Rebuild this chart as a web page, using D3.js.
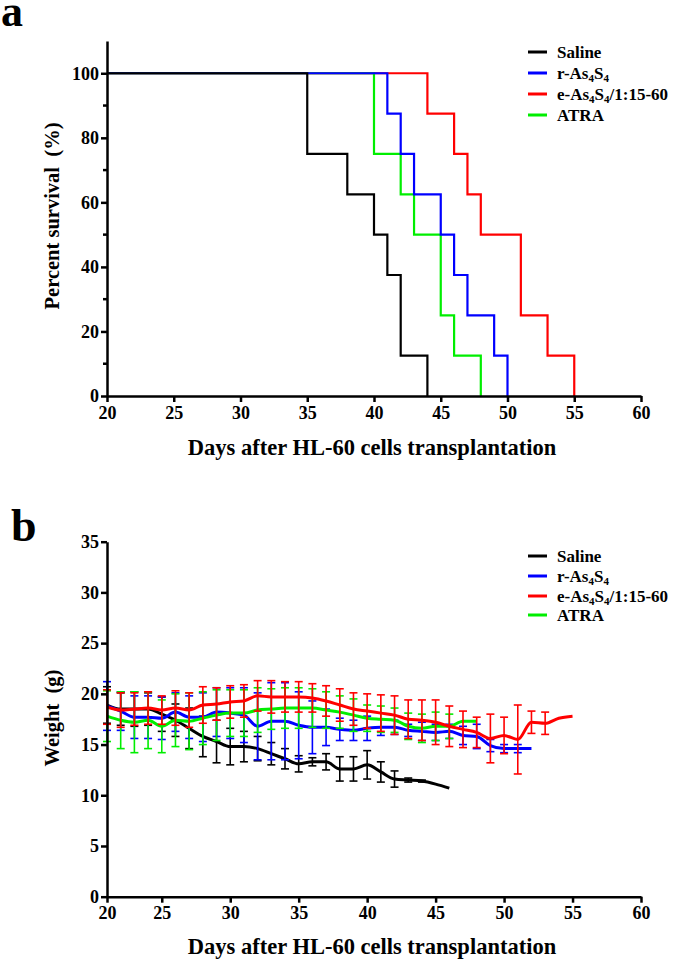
<!DOCTYPE html>
<html>
<head>
<meta charset="utf-8">
<script src="https://cdn.jsdelivr.net/npm/d3@7"></script>
<style>
  body { margin: 0; background: #fff; }
  text { font-family: "Liberation Serif", "Times New Roman", serif; font-weight: bold; fill: #000; }
</style>
</head>
<body>
<div id="chart"></div>
<script>
// ---------- data ----------
var groups = ["Saline", "r-As4S4", "e-As4S4/1:15-60", "ATRA"];
var colors = ["#000000", "#0000ff", "#ff0000", "#00ee00"];

// survival steps: [day, percent] where the curve drops
var survSaline = [[20, 100], [35, 75], [38, 62.5], [40, 50], [41, 37.5], [42, 12.5], [44, 0]];
var survR      = [[20, 100], [41, 87.5], [42, 75], [43, 62.5], [45, 50], [46, 37.5], [47, 25], [49, 12.5], [50, 0]];
var survE      = [[20, 100], [44, 87.5], [46, 75], [47, 62.5], [48, 50], [51, 25], [53, 12.5], [55, 0]];
var survATRA   = [[20, 100], [40, 75], [42, 62.5], [43, 50], [45, 25], [46, 12.5], [48, 0]];

// body weight, first value on day 21, one per day
var firstWeightDay = 21;
var wSaline = [18.9, 18.5, 18.5, 18.5, 18.0, 17.4, 16.6, 15.8, 15.3, 14.8, 14.8, 14.6, 14.1, 13.6, 13.1, 13.3, 13.3, 12.6, 12.6, 13.0, 12.3, 11.6, 11.5, 11.4, 11.1, 10.7];
var sdSaline = [1.8, 1.6, 1.7, 1.6, 1.7, 1.6, 2.0, 2.0, 2.1, 1.8, 1.5, 1.2, 1.1, 1.0, 0.8, 0.4, 0.8, 1.2, 1.2, 1.4, 1.0, 0.8, 0.2, 0.1, 0, 0];
var wR = [18.8, 18.3, 17.7, 17.7, 17.6, 18.2, 17.7, 17.7, 18.2, 18.1, 17.9, 16.8, 17.3, 17.3, 16.9, 16.7, 16.7, 16.5, 16.4, 16.6, 16.7, 16.7, 16.4, 16.3, 16.2, 16.3, 15.9, 15.8, 14.9, 14.6, 14.6, 14.6];
var sdR = [2.4, 1.9, 2.1, 2.1, 2.1, 1.9, 2.1, 2.4, 2.4, 2.5, 2.7, 3.3, 3.8, 3.8, 3.3, 2.6, 1.8, 1.1, 1.0, 1.2, 0.8, 0.7, 0.6, 0.9, 0.8, 0.7, 0.9, 1.2, 0.6, 0.4, 0.4, 0];
var wE = [18.7, 18.4, 18.5, 18.6, 18.4, 18.6, 18.4, 18.9, 19.0, 19.2, 19.3, 19.8, 19.7, 19.7, 19.7, 19.6, 19.3, 18.9, 18.5, 18.3, 18.1, 17.9, 17.5, 17.4, 17.2, 16.8, 16.5, 16.2, 15.6, 15.9, 15.5, 17.2, 17.1, 17.6, 17.8];
var sdE = [1.7, 1.7, 1.6, 1.6, 1.4, 1.7, 1.7, 1.8, 1.6, 1.6, 1.6, 1.5, 1.6, 1.5, 1.5, 1.4, 1.5, 1.6, 1.6, 1.7, 1.8, 1.9, 1.9, 2.0, 2.2, 2.0, 1.8, 1.5, 2.4, 1.8, 3.4, 1.1, 1.1, 0, 0];
var wATRA = [17.8, 17.4, 17.2, 17.4, 16.8, 17.4, 17.3, 17.6, 17.9, 18.1, 18.1, 18.4, 18.5, 18.6, 18.6, 18.6, 18.4, 18.2, 17.9, 17.6, 17.5, 17.4, 16.8, 16.6, 16.8, 16.8, 17.3, 17.3];
var sdATRA = [2.5, 2.8, 3.0, 2.8, 2.6, 2.6, 2.8, 2.6, 2.5, 2.3, 2.3, 2.2, 2.0, 2.0, 2.0, 1.9, 1.8, 1.6, 1.6, 1.3, 1.3, 1.2, 1.3, 1.4, 1.4, 1.2, 0, 0];

var xTicksA = [20, 25, 30, 35, 40, 45, 50, 55, 60];
var yTicksA = [0, 20, 40, 60, 80, 100];
var yMinorA = [10, 30, 50, 70, 90];
var xTicksB = [21, 25, 30, 35, 40, 45, 50, 55, 60];
var xTickLabelsB = ["20", "25", "30", "35", "40", "45", "50", "55", "60"];
var yTicksB = [0, 5, 10, 15, 20, 25, 30, 35];

// ---------- setup ----------
var width = 675, height = 962;
var svg = d3.select("#chart").append("svg")
    .attr("width", width)
    .attr("height", height);

svg.append("rect").attr("width", width).attr("height", height).attr("fill", "#fff");

var left = 107, right = 641;

function styleAxis(g) {
    g.attr("font-family", null);
    g.select(".domain").attr("stroke-width", 2.5);
    g.selectAll(".tick line").attr("stroke-width", 2.5);
    g.selectAll(".tick text")
        .style("font-family", "'Liberation Serif', serif")
        .style("font-weight", "bold")
        .style("font-size", "18px");
}

function drawLegend(g, ys) {
    groups.forEach(function (name, i) {
        g.append("line")
            .attr("x1", 528).attr("x2", 547)
            .attr("y1", ys[i]).attr("y2", ys[i])
            .attr("stroke", colors[i]).attr("stroke-width", 3);
        var t = g.append("text")
            .attr("x", 557).attr("y", ys[i] + 6)
            .style("font-size", "17px");
        // the 4s of As4S4 are subscripts
        var m = name.match(/^(.*?As)4(S)4(.*)$/);
        if (m) {
            t.append("tspan").text(m[1]);
            t.append("tspan").style("font-size", "11px").attr("dy", 3).text("4");
            t.append("tspan").attr("dy", -3).text(m[2]);
            t.append("tspan").style("font-size", "11px").attr("dy", 3).text("4");
            t.append("tspan").attr("dy", -3).text(m[3]);
        } else {
            t.text(name);
        }
    });
}

// ---------- panel a: survival ----------
var topA = 41, bottomA = 396;
var xA = d3.scaleLinear().domain([20, 60]).range([left, right]);
var yA = d3.scaleLinear().domain([0, 110]).range([bottomA, topA]);

var gA = svg.append("g");

var stepLine = d3.line()
    .x(function (d) { return xA(d[0]); })
    .y(function (d) { return yA(d[1]); })
    .curve(d3.curveStepAfter);

// draw order so the 100% line shows black, then blue, then red
var survAll = [survSaline, survR, survE, survATRA];
[2, 3, 1, 0].forEach(function (i) {
    gA.append("path")
        .datum(survAll[i])
        .attr("d", stepLine)
        .attr("fill", "none")
        .attr("stroke", colors[i])
        .attr("stroke-width", 2.2);
});

var yAxisA = gA.append("g")
    .attr("transform", "translate(" + left + ",0)")
    .call(d3.axisLeft(yA).tickValues(yTicksA).tickSize(6).tickSizeOuter(0).tickPadding(2));
styleAxis(yAxisA);
gA.append("g")
    .attr("transform", "translate(" + left + ",0)")
    .selectAll("line").data(yMinorA).enter().append("line")
    .attr("x1", -4).attr("x2", 0)
    .attr("y1", function (d) { return yA(d); })
    .attr("y2", function (d) { return yA(d); })
    .attr("stroke", "#000").attr("stroke-width", 2.5);

var xAxisA = gA.append("g")
    .attr("transform", "translate(0," + bottomA + ")")
    .call(d3.axisBottom(xA).tickValues(xTicksA).tickSize(6).tickSizeOuter(0).tickPadding(4));
styleAxis(xAxisA);

gA.append("text")
    .attr("transform", "translate(59,216) rotate(-90)")
    .attr("text-anchor", "middle")
    .style("font-size", "20.5px")
    .text("Percent survival\u00a0 (%)");

gA.append("text")
    .attr("x", 372).attr("y", 455)
    .attr("text-anchor", "middle")
    .style("font-size", "22.5px")
    .text("Days after HL-60 cells transplantation");

gA.append("text")
    .attr("x", 1).attr("y", 26)
    .style("font-size", "44px")
    .text("a");

drawLegend(gA, [52, 73, 94, 115]);

// ---------- panel b: weight ----------
var topB = 541.7, bottomB = 896.7;
var xB = d3.scaleLinear().domain([21, 60]).range([left, right]);
var yB = d3.scaleLinear().domain([0, 35]).range([bottomB, topB]);

var gB = svg.append("g");

var weightAll = [wSaline, wR, wE, wATRA];
var sdAll = [sdSaline, sdR, sdE, sdATRA];

var meanLine = d3.line()
    .x(function (d) { return xB(d.day); })
    .y(function (d) { return yB(d.m); })
    .curve(d3.curveMonotoneX);

[0, 1, 3, 2].forEach(function (i) {
    var pts = weightAll[i].map(function (m, k) {
        return { day: firstWeightDay + k, m: m, sd: sdAll[i][k] };
    });
    var g = gB.append("g");
    var bars = pts.filter(function (d) { return d.sd > 0; });
    g.selectAll(".eb").data(bars).enter().append("line")
        .attr("x1", function (d) { return xB(d.day); })
        .attr("x2", function (d) { return xB(d.day); })
        .attr("y1", function (d) { return yB(d.m - d.sd); })
        .attr("y2", function (d) { return yB(d.m + d.sd); })
        .attr("stroke", colors[i]).attr("stroke-width", 1.6);
    [-1, 1].forEach(function (s) {
        g.selectAll(".cap" + s).data(bars).enter().append("line")
            .attr("x1", function (d) { return xB(d.day) - 4; })
            .attr("x2", function (d) { return xB(d.day) + 4; })
            .attr("y1", function (d) { return yB(d.m + s * d.sd); })
            .attr("y2", function (d) { return yB(d.m + s * d.sd); })
            .attr("stroke", colors[i]).attr("stroke-width", 1.6);
    });
    g.append("path")
        .datum(pts)
        .attr("d", meanLine)
        .attr("fill", "none")
        .attr("stroke", colors[i])
        .attr("stroke-width", 3);
});

var yAxisB = gB.append("g")
    .attr("transform", "translate(" + left + ",0)")
    .call(d3.axisLeft(yB).tickValues(yTicksB).tickSize(6).tickSizeOuter(0).tickPadding(2));
styleAxis(yAxisB);

var xAxisB = gB.append("g")
    .attr("transform", "translate(0," + bottomB + ")")
    .call(d3.axisBottom(xB).tickValues(xTicksB)
        .tickFormat(function (d, i) { return xTickLabelsB[i]; })
        .tickSize(6).tickSizeOuter(0).tickPadding(4));
styleAxis(xAxisB);

gB.append("text")
    .attr("transform", "translate(59,718) rotate(-90)")
    .attr("text-anchor", "middle")
    .style("font-size", "20.5px")
    .text("Weight\u00a0 (g)");

gB.append("text")
    .attr("x", 372).attr("y", 954)
    .attr("text-anchor", "middle")
    .style("font-size", "22.5px")
    .text("Days after HL-60 cells transplantation");

gB.append("text")
    .attr("x", 11).attr("y", 541)
    .style("font-size", "46px")
    .text("b");

drawLegend(gB, [556, 576, 596, 615]);
</script>
</body>
</html>
